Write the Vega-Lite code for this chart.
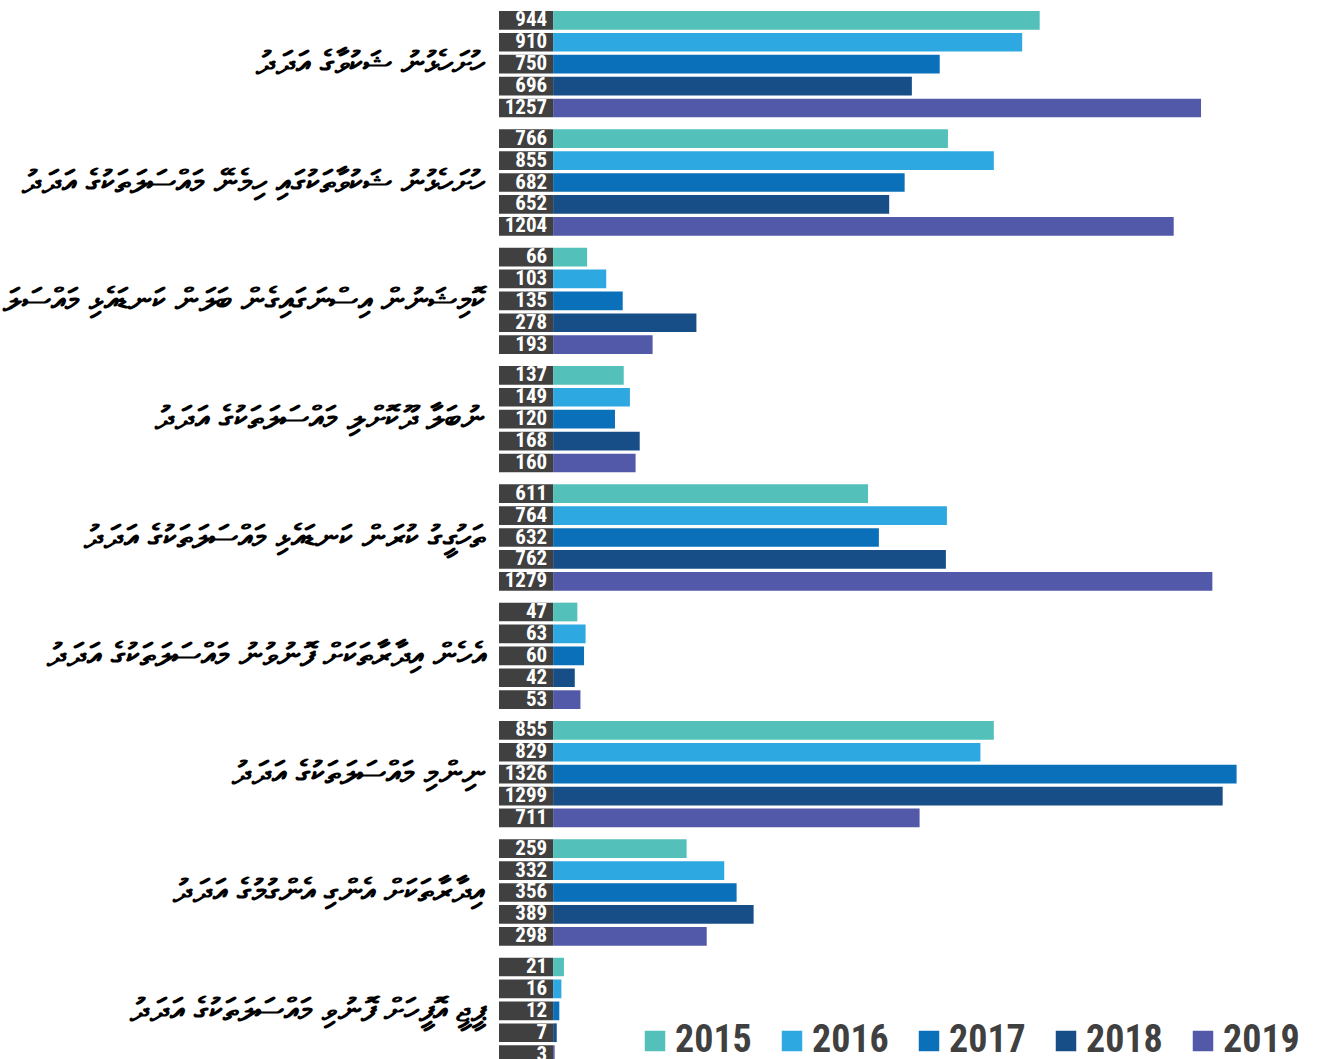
{
  "$schema": "https://vega.github.io/schema/vega-lite/v6.json",
  "width": 818,
  "height": 1075,
  "autosize": {"type": "none"},
  "padding": {"left": 499, "top": 0, "right": 0, "bottom": 0},
  "background": "white",
  "config": {"view": {"stroke": null}},
  "data": {"values": [
    {"cat": "ހުށަހެޅުނު ޝަކުވާގެ އަދަދު", "year": "2015", "value": 944},
    {"cat": "ހުށަހެޅުނު ޝަކުވާގެ އަދަދު", "year": "2016", "value": 910},
    {"cat": "ހުށަހެޅުނު ޝަކުވާގެ އަދަދު", "year": "2017", "value": 750},
    {"cat": "ހުށަހެޅުނު ޝަކުވާގެ އަދަދު", "year": "2018", "value": 696},
    {"cat": "ހުށަހެޅުނު ޝަކުވާގެ އަދަދު", "year": "2019", "value": 1257},
    {"cat": "ހުށަހެޅުނު ޝަކުވާތަކުގައި ހިމެނޭ މައްސަލަތަކުގެ އަދަދު", "year": "2015", "value": 766},
    {"cat": "ހުށަހެޅުނު ޝަކުވާތަކުގައި ހިމެނޭ މައްސަލަތަކުގެ އަދަދު", "year": "2016", "value": 855},
    {"cat": "ހުށަހެޅުނު ޝަކުވާތަކުގައި ހިމެނޭ މައްސަލަތަކުގެ އަދަދު", "year": "2017", "value": 682},
    {"cat": "ހުށަހެޅުނު ޝަކުވާތަކުގައި ހިމެނޭ މައްސަލަތަކުގެ އަދަދު", "year": "2018", "value": 652},
    {"cat": "ހުށަހެޅުނު ޝަކުވާތަކުގައި ހިމެނޭ މައްސަލަތަކުގެ އަދަދު", "year": "2019", "value": 1204},
    {"cat": "ކޮމިޝަނުން އިސްނަގައިގެން ބަލަން ކަނޑައެޅި މައްސަލަ", "year": "2015", "value": 66},
    {"cat": "ކޮމިޝަނުން އިސްނަގައިގެން ބަލަން ކަނޑައެޅި މައްސަލަ", "year": "2016", "value": 103},
    {"cat": "ކޮމިޝަނުން އިސްނަގައިގެން ބަލަން ކަނޑައެޅި މައްސަލަ", "year": "2017", "value": 135},
    {"cat": "ކޮމިޝަނުން އިސްނަގައިގެން ބަލަން ކަނޑައެޅި މައްސަލަ", "year": "2018", "value": 278},
    {"cat": "ކޮމިޝަނުން އިސްނަގައިގެން ބަލަން ކަނޑައެޅި މައްސަލަ", "year": "2019", "value": 193},
    {"cat": "ނުބަލާ ދޫކޮށްލި މައްސަލަތަކުގެ އަދަދު", "year": "2015", "value": 137},
    {"cat": "ނުބަލާ ދޫކޮށްލި މައްސަލަތަކުގެ އަދަދު", "year": "2016", "value": 149},
    {"cat": "ނުބަލާ ދޫކޮށްލި މައްސަލަތަކުގެ އަދަދު", "year": "2017", "value": 120},
    {"cat": "ނުބަލާ ދޫކޮށްލި މައްސަލަތަކުގެ އަދަދު", "year": "2018", "value": 168},
    {"cat": "ނުބަލާ ދޫކޮށްލި މައްސަލަތަކުގެ އަދަދު", "year": "2019", "value": 160},
    {"cat": "ތަހުގީގު ކުރަން ކަނޑައެޅި މައްސަލަތަކުގެ އަދަދު", "year": "2015", "value": 611},
    {"cat": "ތަހުގީގު ކުރަން ކަނޑައެޅި މައްސަލަތަކުގެ އަދަދު", "year": "2016", "value": 764},
    {"cat": "ތަހުގީގު ކުރަން ކަނޑައެޅި މައްސަލަތަކުގެ އަދަދު", "year": "2017", "value": 632},
    {"cat": "ތަހުގީގު ކުރަން ކަނޑައެޅި މައްސަލަތަކުގެ އަދަދު", "year": "2018", "value": 762},
    {"cat": "ތަހުގީގު ކުރަން ކަނޑައެޅި މައްސަލަތަކުގެ އަދަދު", "year": "2019", "value": 1279},
    {"cat": "އެހެން އިދާރާތަކަށް ފޮނުވުނު މައްސަލަތަކުގެ އަދަދު", "year": "2015", "value": 47},
    {"cat": "އެހެން އިދާރާތަކަށް ފޮނުވުނު މައްސަލަތަކުގެ އަދަދު", "year": "2016", "value": 63},
    {"cat": "އެހެން އިދާރާތަކަށް ފޮނުވުނު މައްސަލަތަކުގެ އަދަދު", "year": "2017", "value": 60},
    {"cat": "އެހެން އިދާރާތަކަށް ފޮނުވުނު މައްސަލަތަކުގެ އަދަދު", "year": "2018", "value": 42},
    {"cat": "އެހެން އިދާރާތަކަށް ފޮނުވުނު މައްސަލަތަކުގެ އަދަދު", "year": "2019", "value": 53},
    {"cat": "ނިންމި މައްސަލަތަކުގެ އަދަދު", "year": "2015", "value": 855},
    {"cat": "ނިންމި މައްސަލަތަކުގެ އަދަދު", "year": "2016", "value": 829},
    {"cat": "ނިންމި މައްސަލަތަކުގެ އަދަދު", "year": "2017", "value": 1326},
    {"cat": "ނިންމި މައްސަލަތަކުގެ އަދަދު", "year": "2018", "value": 1299},
    {"cat": "ނިންމި މައްސަލަތަކުގެ އަދަދު", "year": "2019", "value": 711},
    {"cat": "އިދާރާތަކަށް އެންގި އެންގުމުގެ އަދަދު", "year": "2015", "value": 259},
    {"cat": "އިދާރާތަކަށް އެންގި އެންގުމުގެ އަދަދު", "year": "2016", "value": 332},
    {"cat": "އިދާރާތަކަށް އެންގި އެންގުމުގެ އަދަދު", "year": "2017", "value": 356},
    {"cat": "އިދާރާތަކަށް އެންގި އެންގުމުގެ އަދަދު", "year": "2018", "value": 389},
    {"cat": "އިދާރާތަކަށް އެންގި އެންގުމުގެ އަދަދު", "year": "2019", "value": 298},
    {"cat": "ޕީޖީ އޮފީހަށް ފޮނުވި މައްސަލަތަކުގެ އަދަދު", "year": "2015", "value": 21},
    {"cat": "ޕީޖީ އޮފީހަށް ފޮނުވި މައްސަލަތަކުގެ އަދަދު", "year": "2016", "value": 16},
    {"cat": "ޕީޖީ އޮފީހަށް ފޮނުވި މައްސަލަތަކުގެ އަދަދު", "year": "2017", "value": 12},
    {"cat": "ޕީޖީ އޮފީހަށް ފޮނުވި މައްސަލަތަކުގެ އަދަދު", "year": "2018", "value": 7},
    {"cat": "ޕީޖީ އޮފީހަށް ފޮނުވި މައްސަލަތަކުގެ އަދަދު", "year": "2019", "value": 3}
  ]},
  "encoding": {
    "y": {
      "field": "cat", "type": "nominal",
      "sort": [
        "ހުށަހެޅުނު ޝަކުވާގެ އަދަދު",
        "ހުށަހެޅުނު ޝަކުވާތަކުގައި ހިމެނޭ މައްސަލަތަކުގެ އަދަދު",
        "ކޮމިޝަނުން އިސްނަގައިގެން ބަލަން ކަނޑައެޅި މައްސަލަ",
        "ނުބަލާ ދޫކޮށްލި މައްސަލަތަކުގެ އަދަދު",
        "ތަހުގީގު ކުރަން ކަނޑައެޅި މައްސަލަތަކުގެ އަދަދު",
        "އެހެން އިދާރާތަކަށް ފޮނުވުނު މައްސަލަތަކުގެ އަދަދު",
        "ނިންމި މައްސަލަތަކުގެ އަދަދު",
        "އިދާރާތަކަށް އެންގި އެންގުމުގެ އަދަދު",
        "ޕީޖީ އޮފީހަށް ފޮނުވި މައްސަލަތަކުގެ އަދަދު"
      ],
      "scale": {"paddingInner": 0.1014, "paddingOuter": 0.093},
      "axis": {"title": null, "domain": false, "ticks": false, "labelPadding": 14, "labelFontSize": 32.5, "labelFontWeight": "bold", "labelColor": "#000000", "labelLimit": 520}
    },
    "yOffset": {
      "field": "year", "type": "nominal",
      "scale": {"paddingInner": 0.146, "paddingOuter": 0}
    }
  },
  "layer": [
    {
      "mark": {"type": "bar", "color": "#404040"},
      "encoding": {
        "x": {"datum": -105, "type": "quantitative", "axis": null, "scale": {"domain": [-105, 1482], "nice": false, "zero": false}},
        "x2": {"datum": 0}
      }
    },
    {
      "mark": {"type": "bar"},
      "encoding": {
        "x": {"field": "value", "type": "quantitative", "axis": null},
        "color": {
          "field": "year", "type": "nominal",
          "scale": {"domain": ["2015", "2016", "2017", "2018", "2019"], "range": ["#53c1b9", "#2ea8e0", "#0a70b9", "#174e88", "#5259a8"]},
          "legend": {
            "title": null, "orient": "none", "direction": "horizontal",
            "legendX": 137, "legendY": 1022, "padding": 0,
            "symbolType": "square", "symbolSize": 420, "symbolStrokeWidth": 0,
            "labelFontSize": 38, "labelFontWeight": "bold", "labelColor": "#404040",
            "labelFont": "Roboto Condensed, Liberation Sans Narrow, DejaVu Sans Condensed, sans-serif",
            "labelOffset": 1, "columnPadding": 21, "labelLimit": 200
          }
        }
      }
    },
    {
      "mark": {"type": "text", "align": "right", "dx": -6, "color": "white", "fontWeight": "bold", "fontSize": 21, "font": "Roboto Condensed, Liberation Sans Narrow, DejaVu Sans Condensed, sans-serif"},
      "encoding": {
        "x": {"datum": 0, "type": "quantitative", "axis": null},
        "text": {"field": "value", "type": "quantitative"}
      }
    }
  ]
}
